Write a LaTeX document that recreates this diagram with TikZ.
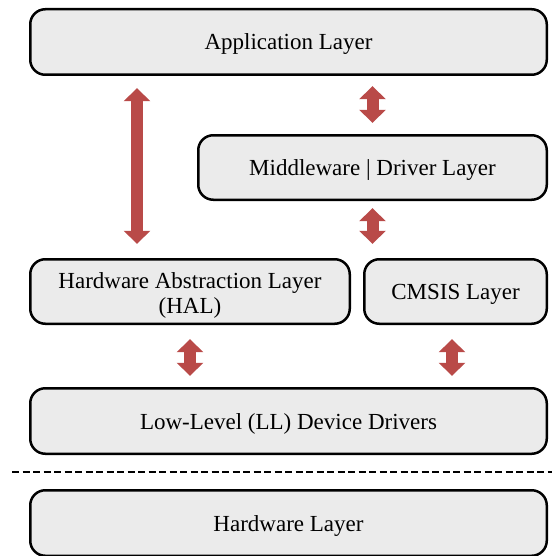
\documentclass[tikz,border=0pt]{standalone}
\usepackage{fontspec}
\setmainfont{Liberation Serif}
\usetikzlibrary{arrows.meta, positioning}

\definecolor{boxgray}{RGB}{235,235,235}
\definecolor{linkred}{RGB}{185,74,72}

\tikzset{
  layer/.style={draw, line width=1.25pt, fill=boxgray, rounded corners=7.5pt,
    minimum height=32.75pt, inner sep=0pt, align=center,
    text height=10.5pt, text depth=2.5pt,
    font=\fontsize{11.5}{12.5}\selectfont},
  link/.style={linkred, line width=6pt,
    {Triangle[width=13pt,length=6.5pt]}-{Triangle[width=13pt,length=6.5pt]}}
}

\begin{document}
\begin{tikzpicture}[x=0.5pt, y=-0.5pt]
  \useasboundingbox (0,0) rectangle (552,556);

  % layers
  \draw (288.5,42) node[layer, minimum width=258.25pt] (app) {Application Layer};
  \draw (372.5,167.5) node[layer, minimum width=174.25pt, minimum height=32.25pt] (mid) {Middleware | Driver Layer};
  \draw (190,291.5) node[layer, minimum width=159.75pt, minimum height=32.25pt, text height=24.5pt, text depth=2.5pt] (hal) {Hardware Abstraction Layer\\(HAL)};
  \draw (455.5,291.5) node[layer, minimum width=91.25pt, minimum height=32.25pt] (cmsis) {CMSIS Layer};
  \draw (288.5,421) node[layer, minimum width=258.25pt] (ll) {Low-Level (LL) Device Drivers};
  \draw (288.5,523) node[layer, minimum width=258.25pt] (hw) {Hardware Layer};

  % hardware boundary
  \coordinate (sepL) at (12,472);
  \coordinate (sepR) at (552,472);
  \draw[line width=1pt, dash pattern=on 3.5pt off 1.75pt] (sepL) -- (sepR);

  % links
  \coordinate (bigx) at (137,0);
  \draw[link, shorten <=6.1pt, shorten >=7.1pt] (app.south -| bigx) -- (hal.north -| bigx);
  \draw[link, shorten <=5.1pt, shorten >=5.6pt] (app.south -| mid.north) -- (mid.north);
  \draw[link, shorten <=3.6pt, shorten >=7.1pt] (mid.south) -- (cmsis.north -| mid.south);
  \draw[link, shorten <=7.1pt, shorten >=5.6pt] (hal.south) -- (ll.north -| hal.south);
  \coordinate (cmx) at (452,0);
  \draw[link, shorten <=7.1pt, shorten >=5.6pt] (cmsis.south -| cmx) -- (ll.north -| cmx);
\end{tikzpicture}
\end{document}
